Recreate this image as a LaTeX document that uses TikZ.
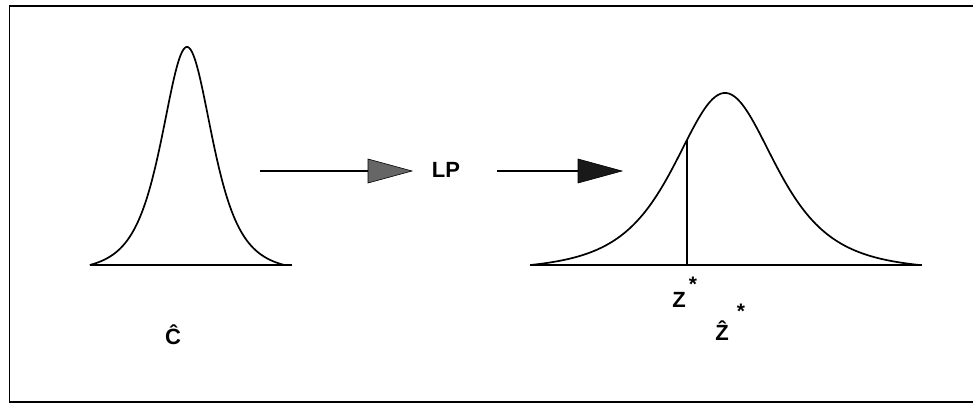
\documentclass[tikz,border=0pt]{standalone}
\usepackage{fontspec}
\setmainfont{Liberation Sans}
\begin{document}
\begin{tikzpicture}[x=1pt,y=-1pt,
  curve/.style={line width=1.7pt,line join=round},
  baseln/.style={line width=2pt},
  conn/.style={line width=1.5pt},
  tri/.style={line width=0.6pt,draw=black},
  lbl/.style={font=\fontsize{22}{22}\selectfont\bfseries,inner sep=0pt},
  star/.style={font=\fontsize{21}{21}\selectfont\bfseries,inner sep=0pt},
  declare function={tf(\u)=(1+\u*\u/3)^(-2);}]
\useasboundingbox (0,0) rectangle (973,403);
% frame
\draw[line width=1.8pt] (973,6) -- (9.5,6) -- (9.5,402) -- (973,402);
% left distribution
\draw[curve] plot[domain=-3.6:3.6,samples=140,smooth] ({187+27*\x},{265-218*(tf(\x)-tf(3.6))/(1-tf(3.6))});
\draw[baseln] (90,265) -- (292,265);
% right distribution
\draw[curve] plot[domain=-3.6:3.6,samples=140,smooth] ({725+54*\x},{265-172*(tf(\x)-tf(3.6))/(1-tf(3.6))});
\draw[baseln] (530,265) -- (922,265);
\coordinate (zb) at (687,265);
\coordinate (zt) at ({687},{265-172*(tf(-38/54)-tf(3.6))/(1-tf(3.6))});
\draw[line width=1.6pt] (zb) -- (zt);
% arrows and LP
\coordinate (a1s) at (260,171);
\coordinate (a1e) at (368,171);
\node[lbl] (lp) at (446,170) {LP};
\coordinate (a2s) at (497,171);
\coordinate (a2e) at (578,171);
\draw[conn] (a1s) -- (a1e);
\draw[tri,fill=black!60] (a1e) ++(0,-12) -- ++(44,12) -- ++(-44,12) -- cycle;
\draw[conn] (a2s) -- (a2e);
\draw[tri,fill=black!90] (a2e) ++(0,-12) -- ++(44,12) -- ++(-44,12) -- cycle;
% labels
\node[lbl,anchor=base] (chat) at (173,344) {Ĉ};
\node[lbl,anchor=base] (zs) at (679,307) {Z};
\node[star] (zsst) at (693,284) {*};
\node[lbl,anchor=base] (zhat) at (722,340) {Ẑ};
\node[star] (zhst) at (741,311) {*};
\end{tikzpicture}
\end{document}
